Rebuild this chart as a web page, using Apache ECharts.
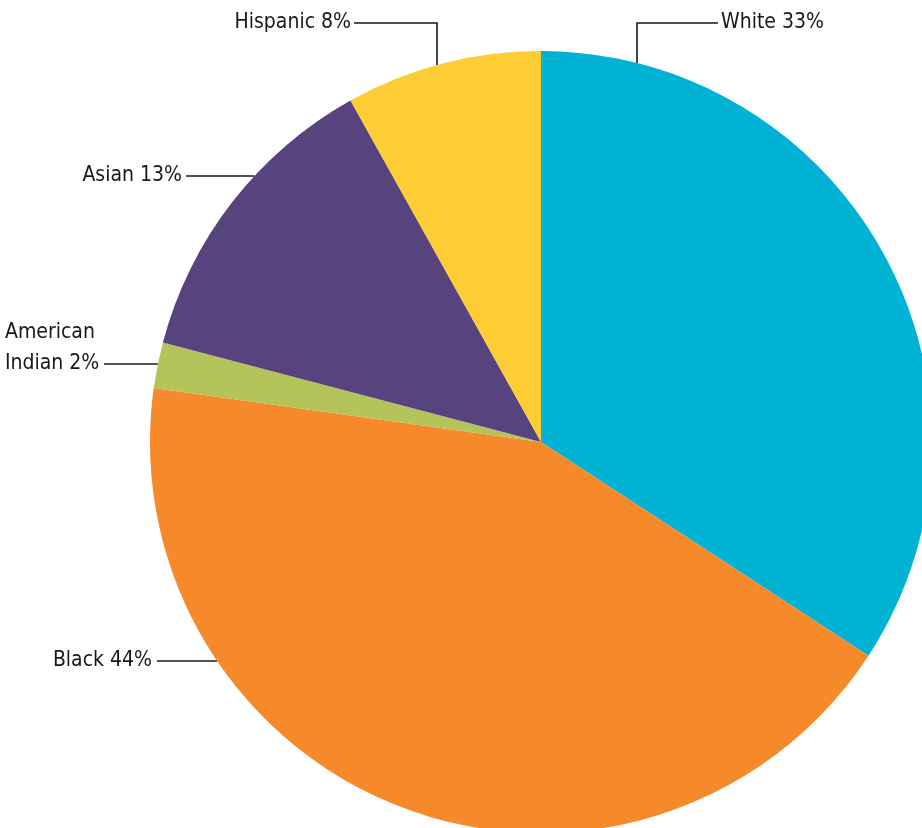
<!DOCTYPE html>
<html>
<head>
<meta charset="utf-8">
<script src="https://cdn.jsdelivr.net/npm/echarts@6/dist/echarts.min.js"></script>
<style>
  html, body { margin: 0; padding: 0; background: #ffffff; }
  #chart { width: 922px; height: 828px; }
</style>
</head>
<body>
<div id="chart"></div>
<script>
// ---- data ----
const categories = ['White', 'Black', 'American\nIndian', 'Asian', 'Hispanic'];
const shares = [34.2, 43.0, 1.9, 12.8, 8.1];          // slice sizes
const shareLabels = ['33%', '44%', '2%', '13%', '8%'];  // printed labels
const colors = ['#00B3D4', '#F6892A', '#B5C35B', '#57437D', '#FECC33'];

// ---- layout (label placement only) ----
const CX = 541, CY = 442, R = 391;
// kind 'v': vertical leader from arc at x=elbowX up to y, then horizontal to text
// kind 'h': horizontal leader at y from arc to text
const labelSpots = [
  { kind: 'v', elbowX: 637, y: 23, textX: 721, lineEnd: 718, align: 'left' },
  { kind: 'h', y: 661, textX: 152, lineEnd: 157, align: 'right' },
  { kind: 'h', y: 364, textX: 5, lineEnd: 104, align: 'left', blockY: 348 },
  { kind: 'h', y: 176, textX: 182, lineEnd: 186, align: 'right' },
  { kind: 'v', elbowX: 437, y: 23, textX: 351, lineEnd: 354, align: 'right' }
];

function arcYAtX(x) { return CY - Math.sqrt(R * R - (x - CX) * (x - CX)); }
function arcXAtY(y) { return CX - Math.sqrt(R * R - (y - CY) * (y - CY)); }

const chart = echarts.init(document.getElementById('chart'), null, { renderer: 'canvas' });

chart.setOption({
  backgroundColor: '#ffffff',
  animation: false,
  series: [{
    type: 'pie',
    center: [CX, CY],
    radius: R,
    startAngle: 90,
    clockwise: true,
    avoidLabelOverlap: false,
    emphasis: { disabled: true },
    itemStyle: { borderWidth: 0 },
    label: {
      show: true,
      position: 'outside',
      fontFamily: '"Liberation Sans Narrow", "DejaVu Sans Condensed", sans-serif',
      fontSize: 21,
      lineHeight: 31,
      color: '#1A1718',
      formatter: p => categories[p.dataIndex] + ' ' + shareLabels[p.dataIndex]
    },
    labelLine: {
      show: true,
      lineStyle: { color: '#1A1718', width: 1.6 }
    },
    labelLayout: function (params) {
      const s = labelSpots[params.dataIndex];
      let pts;
      if (s.kind === 'v') {
        pts = [[s.elbowX, arcYAtX(s.elbowX)], [s.elbowX, s.y], [s.lineEnd, s.y]];
      } else {
        const ax = arcXAtY(s.y);
        pts = [[ax, s.y], [(ax + s.lineEnd) / 2, s.y], [s.lineEnd, s.y]];
      }
      return {
        x: s.textX,
        y: s.blockY !== undefined ? s.blockY : s.y,
        align: s.align,
        verticalAlign: 'middle',
        labelLinePoints: pts
      };
    },
    data: categories.map((c, i) => ({
      name: c,
      value: shares[i],
      itemStyle: { color: colors[i] }
    }))
  }]
});
</script>
</body>
</html>
